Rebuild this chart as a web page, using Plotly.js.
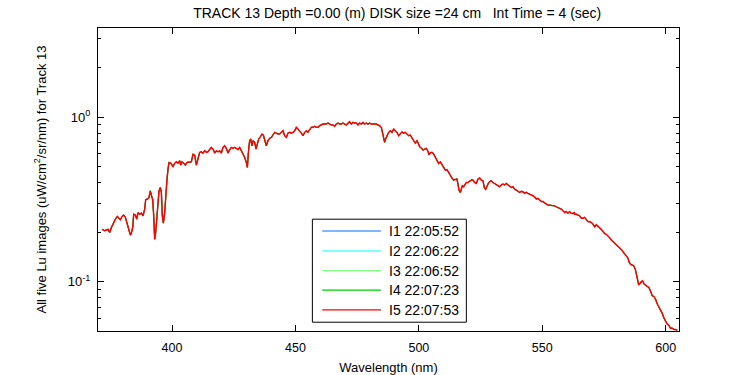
<!DOCTYPE html>
<html>
<head>
<meta charset="utf-8">
<script src="https://cdn.plot.ly/plotly-3.0.1.min.js"></script>
<style>html,body{margin:0;padding:0;background:#fff;}#chart{width:750px;height:375px;}</style>
</head>
<body>
<div id="chart"></div>
<script>
// Wavelength (nm)
const wavelength = [
371.63,372.71,374.06,374.74,375.41,376.36,377.17,377.84,378.39,379.06,379.74,380.41,381.09,381.76,382.44,383.11,383.52,384.06,384.46,385.14,
385.68,386.22,386.89,387.57,388.24,388.92,389.32,390.00,390.67,391.21,391.62,392.16,392.56,392.97,393.37,393.91,394.32,394.72,395.26,395.67,
396.07,396.48,397.02,397.42,397.96,398.37,398.77,399.45,400.39,401.07,401.74,402.42,403.09,403.50,404.04,404.85,405.39,406.06,406.88,407.82,
408.50,409.17,409.85,410.52,411.20,411.87,412.55,413.22,413.90,414.57,415.25,415.92,416.60,417.27,417.95,418.62,419.30,419.97,420.65,421.32,
422.00,422.67,423.35,424.02,424.70,425.38,426.05,426.73,427.40,428.08,428.75,429.43,430.10,430.51,
431.05,431.45,431.86,432.40,432.80,433.48,434.02,434.56,435.10,435.91,436.45,436.99,437.53,438.21,438.88,439.56,440.23,440.91,441.58,442.26,
442.93,443.61,444.28,444.96,445.63,446.31,446.98,447.66,448.33,449.01,449.68,450.36,451.03,451.71,452.38,453.06,453.73,454.41,455.08,455.76,
456.43,457.11,457.78,458.46,459.14,459.81,460.49,461.16,461.84,462.51,463.19,463.86,464.54,465.21,465.89,466.56,467.24,467.91,468.59,469.26,
469.94,470.61,471.29,471.96,472.64,473.31,473.99,474.66,475.34,476.01,476.69,477.36,478.04,478.71,479.39,480.06,480.74,481.42,482.09,482.77,
483.44,484.12,484.79,485.33,485.87,486.14,486.55,487.09,487.76,488.44,489.11,489.79,490.46,491.14,491.81,492.49,493.16,493.84,494.51,495.19,
495.86,496.54,497.21,497.89,498.56,499.24,499.91,
500.32,501.00,501.67,502.35,503.03,503.70,504.11,504.78,505.46,506.00,506.67,507.35,508.02,508.70,509.37,510.05,510.72,511.40,512.07,512.75,
513.42,514.10,514.77,515.45,515.85,516.26,516.80,517.20,517.61,518.15,518.69,519.23,519.90,520.58,521.25,521.93,522.60,523.28,523.95,524.63,
525.30,525.98,526.52,527.06,527.60,528.14,528.68,529.36,530.03,530.71,531.38,532.06,532.73,533.41,534.08,534.76,535.43,536.11,536.78,537.46,
538.13,538.81,539.48,540.16,540.83,541.51,542.18,542.86,543.53,544.21,544.88,545.56,546.23,546.91,547.58,548.26,548.93,549.61,550.28,550.96,
551.63,552.31,552.99,553.66,554.34,555.01,555.69,556.36,557.04,557.71,558.39,559.06,559.74,560.41,561.09,561.76,562.44,562.98,
563.11,563.79,564.46,565.14,565.81,566.49,567.16,567.84,568.51,569.19,569.86,570.54,571.21,571.89,572.56,573.24,573.91,574.59,575.26,575.94,
576.61,577.29,577.96,578.64,579.31,579.99,580.66,581.34,582.01,582.69,583.37,584.04,584.72,585.12,585.66,586.34,587.01,587.69,588.09,588.50,
589.04,589.58,590.12,590.66,591.20,591.87,592.55,593.22,593.90,594.57,595.25,595.92,596.60,597.27,597.95,598.62,599.30,599.97,600.65,601.32,
602.00,602.68,603.35,604.03,604.70
];

// Lu (uW/cm^2/sr/nm) for image I5 (the five images overlap to within a pixel)
const luI5 = [
0.208,0.204,0.208,0.199,0.213,0.229,0.242,0.249,0.242,0.238,0.249,0.254,0.246,0.224,0.204,0.192,0.197,0.213,0.257,0.254,
0.240,0.263,0.257,0.261,0.251,0.276,0.315,0.318,0.325,0.357,0.336,0.315,0.254,0.181,0.199,0.263,0.310,0.357,0.374,0.349,
0.251,0.227,0.263,0.341,0.421,0.484,0.531,0.526,0.502,0.526,0.536,0.526,0.544,0.512,0.536,0.524,0.512,0.531,0.531,0.536,
0.597,0.589,0.512,0.570,0.612,0.617,0.606,0.626,0.612,0.617,0.641,0.656,0.641,0.606,0.626,0.617,0.626,0.606,0.656,0.671,
0.647,0.606,0.635,0.656,0.647,0.656,0.647,0.635,0.656,0.626,0.606,0.570,0.531,0.496,
0.641,0.721,0.738,0.671,0.721,0.704,0.641,0.704,0.738,0.766,0.791,0.780,0.738,0.671,0.721,0.745,0.755,0.780,0.810,0.802,
0.791,0.791,0.810,0.829,0.773,0.755,0.802,0.810,0.802,0.810,0.829,0.869,0.849,0.829,0.802,0.773,0.810,0.829,0.810,0.841,
0.869,0.869,0.881,0.869,0.869,0.889,0.902,0.910,0.910,0.910,0.923,0.910,0.898,0.898,0.881,0.910,0.923,0.910,0.910,0.923,
0.910,0.898,0.923,0.941,0.910,0.932,0.923,0.923,0.898,0.923,0.910,0.932,0.910,0.923,0.910,0.923,0.910,0.910,0.910,0.910,
0.898,0.889,0.869,0.791,0.745,0.704,0.738,0.780,0.810,0.829,0.810,0.849,0.829,0.810,0.773,0.791,0.815,0.802,0.810,0.791,
0.773,0.780,0.745,0.721,0.697,0.721,0.687,
0.662,0.650,0.632,0.641,0.647,0.620,0.592,0.611,0.611,0.597,0.575,0.544,0.524,0.536,0.519,0.496,0.477,0.480,0.462,0.441,
0.427,0.415,0.417,0.421,0.392,0.360,0.349,0.365,0.383,0.378,0.388,0.401,0.401,0.411,0.415,0.415,0.401,0.396,0.421,0.427,
0.415,0.411,0.374,0.365,0.383,0.396,0.405,0.411,0.401,0.396,0.392,0.383,0.378,0.388,0.392,0.388,0.396,0.388,0.378,0.374,
0.378,0.365,0.360,0.352,0.349,0.354,0.352,0.345,0.349,0.344,0.341,0.337,0.333,0.328,0.318,0.321,0.313,0.307,0.307,0.300,
0.296,0.293,0.292,0.292,0.292,0.289,0.285,0.283,0.279,0.276,0.270,0.263,0.267,0.261,0.267,0.260,0.260,0.263,
0.257,0.257,0.254,0.251,0.243,0.243,0.246,0.240,0.232,0.231,0.229,0.224,0.215,0.222,0.218,0.213,0.208,0.202,0.196,0.194,
0.190,0.185,0.179,0.175,0.173,0.169,0.165,0.161,0.157,0.152,0.148,0.143,0.139,0.132,0.128,0.126,0.125,0.119,0.111,0.103,
0.096,0.097,0.100,0.101,0.097,0.095,0.094,0.092,0.087,0.082,0.081,0.078,0.073,0.070,0.067,0.064,0.060,0.057,0.055,0.054,
0.052,0.052,0.051,0.051,0.0505
];
// The other four images cannot be told apart from I5 at this resolution
const luI1 = luI5, luI2 = luI5, luI3 = luI5, luI4 = luI5;

const seriesNames = ['I1 22:05:52', 'I2 22:06:22', 'I3 22:06:52', 'I4 22:07:23', 'I5 22:07:53'];
const seriesValues = [luI1, luI2, luI3, luI4, luI5];
const seriesColors = ['#0070f0', '#00ffff', '#80ff80', '#00cc00', '#ff0000'];
const seriesWidths = [1, 1, 1, 1, 1.5];

const yMajorTicks = [0.1, 1];
const yMajorText = ['10<sup>-1</sup>', '10<sup>0</sup>'];
const yMinorTicks = [0.06, 0.07, 0.08, 0.09, 0.2, 0.3, 0.4, 0.5, 0.6, 0.7, 0.8, 0.9, 2, 3];

const FONT = 'Arial, "Liberation Sans", Helvetica, sans-serif';

const traces = seriesValues.map((vals, i) => ({
  x: wavelength, y: vals, type: 'scatter', mode: 'lines',
  name: seriesNames[i], line: {color: seriesColors[i], width: seriesWidths[i]}, showlegend: false
}));

// Legend box drawn in paper coordinates (MATLAB-style long line samples)
const shapes = [{type: 'rect', xref: 'paper', yref: 'paper', x0: 0.369, x1: 0.634, y0: 0.029, y1: 0.369,
  line: {color: '#000', width: 1}, fillcolor: '#fff', layer: 'above'}];
const annotations = [];
const rowY = [0.330, 0.264, 0.199, 0.135, 0.070];
seriesNames.forEach((nm, i) => {
  shapes.push({type: 'line', xref: 'paper', yref: 'paper', x0: 0.386, x1: 0.487, y0: rowY[i], y1: rowY[i],
    line: {color: seriesColors[i], width: 1.2}, layer: 'above'});
  annotations.push({xref: 'paper', yref: 'paper', x: 0.497, y: rowY[i], xanchor: 'left', yanchor: 'middle',
    text: nm, showarrow: false, font: {family: FONT, size: 14, color: '#000'}});
});

const layout = {
  width: 750, height: 375,
  margin: {l: 98, r: 71, t: 28, b: 44, pad: 0},
  paper_bgcolor: '#fff', plot_bgcolor: '#fff',
  font: {family: FONT, size: 12, color: '#000'},
  title: {text: 'TRACK 13 Depth =0.00 (m) DISK size =24 cm\u00a0\u00a0\u00a0Int Time = 4 (sec)',
    font: {family: FONT, size: 14, color: '#000'},
    xref: 'paper', x: 0.515, xanchor: 'center', yref: 'container', y: 0.965, yanchor: 'middle'},
  xaxis: {
    range: [370, 605.4], tick0: 0, dtick: 50, ticks: 'inside', ticklen: 6, tickcolor: '#000',
    showline: true, linecolor: '#000', linewidth: 1, mirror: 'ticks', showgrid: false, zeroline: false,
    ticklabelstandoff: 5,
    tickfont: {family: FONT, size: 12.5, color: '#000'},
    title: {text: 'Wavelength (nm)', font: {family: FONT, size: 13, color: '#000'}, standoff: 8}
  },
  yaxis: {
    type: 'log', range: [Math.log10(0.05), Math.log10(3.5)],
    tickmode: 'array', tickvals: yMajorTicks, ticktext: yMajorText,
    ticks: 'inside', ticklen: 6, tickcolor: '#000',
    minor: {tickmode: 'array', tickvals: yMinorTicks, ticks: 'inside', ticklen: 3, tickcolor: '#000', showgrid: false},
    showline: true, linecolor: '#000', linewidth: 1, mirror: 'ticks', showgrid: false, zeroline: false,
    ticklabelstandoff: 4,
    tickfont: {family: FONT, size: 13, color: '#000'},
    title: {text: 'All five Lu images (uW/cm<sup>2</sup>/sr/nm) for Track 13', font: {family: FONT, size: 13, color: '#000'}, standoff: 18}
  },
  shapes: shapes,
  annotations: annotations,
  showlegend: false
};

Plotly.newPlot('chart', traces, layout, {staticPlot: true, displayModeBar: false});
</script>
</body>
</html>
